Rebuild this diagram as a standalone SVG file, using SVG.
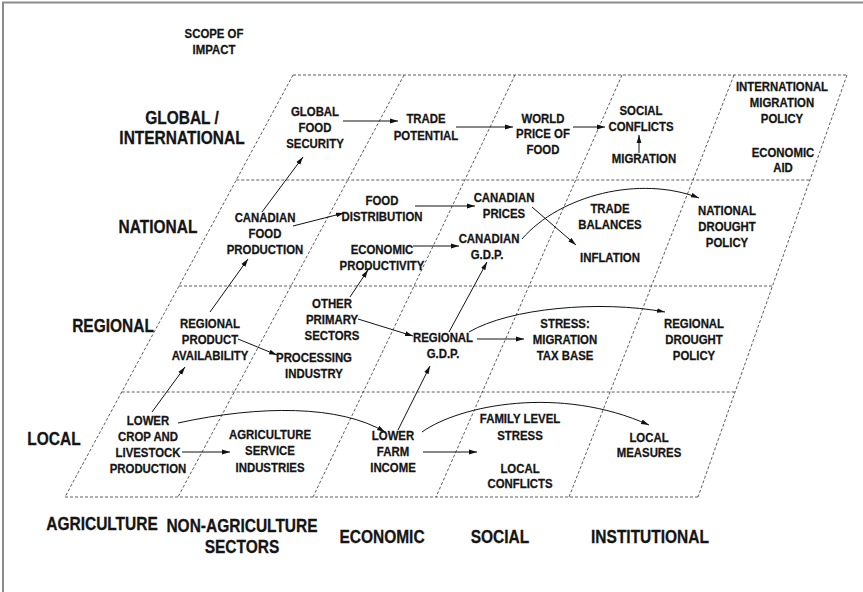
<svg xmlns="http://www.w3.org/2000/svg" width="863" height="592" viewBox="0 0 863 592">
  <defs>
    <style>
      .frame { fill: none; stroke: #8c8c8c; stroke-width: 2; }
      .grid { stroke: #4a4a4a; stroke-width: 0.9; stroke-dasharray: 3 2; fill: none; }
      .edge { stroke: #111; stroke-width: 1; fill: none; marker-end: url(#arrow); }
      text { font-family: "Liberation Sans", Arial, sans-serif; font-weight: bold; fill: #151515; stroke: #151515; stroke-width: 0.25; text-anchor: middle; }
      .n { font-size: 11.4px; }
      .axis { font-size: 15.5px; }
    </style>
    <marker id="arrow" markerUnits="userSpaceOnUse" markerWidth="9" markerHeight="6" refX="8" refY="3" orient="auto">
      <path d="M0,0.6 L8,3 L0,5.4 Z" fill="#111"/>
    </marker>
  </defs>

  <rect width="863" height="592" fill="#fff"/>
  <rect class="frame" x="3" y="2.5" width="900" height="700"/>

  <!-- skewed grid: five scope rows by five sectors -->
  <g id="grid">
    <line class="grid" x1="293" y1="75" x2="847" y2="75"/>
    <line class="grid" x1="236.3" y1="180" x2="809.9" y2="180"/>
    <line class="grid" x1="179" y1="286" x2="772.5" y2="286"/>
    <line class="grid" x1="121.7" y1="392" x2="735.1" y2="392"/>
    <line class="grid" x1="65" y1="497" x2="698" y2="497"/>
    <line class="grid" x1="293" y1="75" x2="65" y2="497"/>
    <line class="grid" x1="404" y1="75" x2="178" y2="497"/>
    <line class="grid" x1="515" y1="75" x2="313" y2="497"/>
    <line class="grid" x1="622" y1="75" x2="436" y2="497"/>
    <line class="grid" x1="734" y1="75" x2="569" y2="497"/>
    <line class="grid" x1="847" y1="75" x2="698" y2="497"/>
  </g>

  <!-- axis labels -->
  <g id="scope-title"><text class="n" transform="translate(214,38) scale(1,1.18)"><tspan x="0">SCOPE OF</tspan><tspan x="0" dy="13.56">IMPACT</tspan></text></g>
  <g id="row-global"><text class="axis" transform="translate(182,124) scale(1,1.18)"><tspan x="0">GLOBAL /</tspan><tspan x="0" dy="16.95">INTERNATIONAL</tspan></text></g>
  <g id="row-national"><text class="axis" transform="translate(158,233) scale(1,1.18)">NATIONAL</text></g>
  <g id="row-regional"><text class="axis" transform="translate(113,332) scale(1,1.18)">REGIONAL</text></g>
  <g id="row-local"><text class="axis" transform="translate(54,445) scale(1,1.18)">LOCAL</text></g>
  <g id="col-agriculture"><text class="axis" transform="translate(102,530) scale(1,1.18)">AGRICULTURE</text></g>
  <g id="col-non-agriculture"><text class="axis" transform="translate(242,532) scale(1,1.18)"><tspan x="0">NON-AGRICULTURE</tspan><tspan x="0" dy="17.8">SECTORS</tspan></text></g>
  <g id="col-economic"><text class="axis" transform="translate(382,543) scale(1,1.18)">ECONOMIC</text></g>
  <g id="col-social"><text class="axis" transform="translate(500,543) scale(1,1.18)">SOCIAL</text></g>
  <g id="col-institutional"><text class="axis" transform="translate(650,543) scale(1,1.18)">INSTITUTIONAL</text></g>

  <!-- global / international row -->
  <g id="global-food-security"><text class="n" transform="translate(315,116) scale(1,1.18)"><tspan x="0">GLOBAL</tspan><tspan x="0" dy="13.56">FOOD</tspan><tspan x="0" dy="13.56">SECURITY</tspan></text></g>
  <g id="trade-potential"><text class="n" transform="translate(426,123) scale(1,1.18)"><tspan x="0">TRADE</tspan><tspan x="0" dy="14.2">POTENTIAL</tspan></text></g>
  <g id="world-price"><text class="n" transform="translate(543,123) scale(1,1.18)"><tspan x="0">WORLD</tspan><tspan x="0" dy="13.1">PRICE OF</tspan><tspan x="0" dy="13.1">FOOD</tspan></text></g>
  <g id="social-conflicts"><text class="n" transform="translate(641,115) scale(1,1.18)"><tspan x="0">SOCIAL</tspan><tspan x="0" dy="13.56">CONFLICTS</tspan></text></g>
  <g id="migration"><text class="n" transform="translate(644,163) scale(1,1.18)">MIGRATION</text></g>
  <g id="intl-migration-policy"><text class="n" transform="translate(782,91) scale(1,1.18)"><tspan x="0">INTERNATIONAL</tspan><tspan x="0" dy="13.56">MIGRATION</tspan><tspan x="0" dy="13.56">POLICY</tspan></text></g>
  <g id="economic-aid"><text class="n" transform="translate(783,157) scale(1,1.18)"><tspan x="0">ECONOMIC</tspan><tspan x="0" dy="12.8">AID</tspan></text></g>

  <!-- national row -->
  <g id="canadian-food-production"><text class="n" transform="translate(265,222) scale(1,1.18)"><tspan x="0">CANADIAN</tspan><tspan x="0" dy="13.56">FOOD</tspan><tspan x="0" dy="13.56">PRODUCTION</tspan></text></g>
  <g id="food-distribution"><text class="n" transform="translate(382,205) scale(1,1.18)"><tspan x="0">FOOD</tspan><tspan x="0" dy="13.56">DISTRIBUTION</tspan></text></g>
  <g id="economic-productivity"><text class="n" transform="translate(382,254) scale(1,1.18)"><tspan x="0">ECONOMIC</tspan><tspan x="0" dy="13.56">PRODUCTIVITY</tspan></text></g>
  <g id="canadian-prices"><text class="n" transform="translate(504,202) scale(1,1.18)"><tspan x="0">CANADIAN</tspan><tspan x="0" dy="13.56">PRICES</tspan></text></g>
  <g id="canadian-gdp"><text class="n" transform="translate(489,243) scale(1,1.18)"><tspan x="0">CANADIAN</tspan><tspan x="-2" dy="13.56">G.D.P.</tspan></text></g>
  <g id="trade-balances"><text class="n" transform="translate(610,213) scale(1,1.18)"><tspan x="0">TRADE</tspan><tspan x="0" dy="13.56">BALANCES</tspan></text></g>
  <g id="inflation"><text class="n" transform="translate(610,262) scale(1,1.18)">INFLATION</text></g>
  <g id="national-drought-policy"><text class="n" transform="translate(727,215) scale(1,1.18)"><tspan x="0">NATIONAL</tspan><tspan x="0" dy="13.56">DROUGHT</tspan><tspan x="0" dy="13.56">POLICY</tspan></text></g>

  <!-- regional row -->
  <g id="regional-product-availability"><text class="n" transform="translate(210,328) scale(1,1.18)"><tspan x="0">REGIONAL</tspan><tspan x="0" dy="13.56">PRODUCT</tspan><tspan x="0" dy="13.56">AVAILABILITY</tspan></text></g>
  <g id="other-primary-sectors"><text class="n" transform="translate(332,308) scale(1,1.18)"><tspan x="0">OTHER</tspan><tspan x="0" dy="13.56">PRIMARY</tspan><tspan x="0" dy="13.56">SECTORS</tspan></text></g>
  <g id="processing-industry"><text class="n" transform="translate(314,362) scale(1,1.18)"><tspan x="0">PROCESSING</tspan><tspan x="0" dy="13.56">INDUSTRY</tspan></text></g>
  <g id="regional-gdp"><text class="n" transform="translate(443,342) scale(1,1.18)"><tspan x="0">REGIONAL</tspan><tspan x="0" dy="13.56">G.D.P.</tspan></text></g>
  <g id="stress-migration-tax"><text class="n" transform="translate(565,328) scale(1,1.18)"><tspan x="0">STRESS:</tspan><tspan x="0" dy="13.56">MIGRATION</tspan><tspan x="0" dy="13.56">TAX BASE</tspan></text></g>
  <g id="regional-drought-policy"><text class="n" transform="translate(694,328) scale(1,1.18)"><tspan x="0">REGIONAL</tspan><tspan x="0" dy="13.56">DROUGHT</tspan><tspan x="0" dy="13.56">POLICY</tspan></text></g>

  <!-- local row -->
  <g id="lower-crop-livestock"><text class="n" transform="translate(148,425) scale(1,1.18)"><tspan x="0">LOWER</tspan><tspan x="0" dy="13.56">CROP AND</tspan><tspan x="0" dy="13.56">LIVESTOCK</tspan><tspan x="0" dy="13.56">PRODUCTION</tspan></text></g>
  <g id="agriculture-service-industries"><text class="n" transform="translate(270,439) scale(1,1.18)"><tspan x="0">AGRICULTURE</tspan><tspan x="0" dy="13.8">SERVICE</tspan><tspan x="0" dy="13.8">INDUSTRIES</tspan></text></g>
  <g id="lower-farm-income"><text class="n" transform="translate(393,440) scale(1,1.18)"><tspan x="0">LOWER</tspan><tspan x="0" dy="13.56">FARM</tspan><tspan x="0" dy="13.56">INCOME</tspan></text></g>
  <g id="family-level-stress"><text class="n" transform="translate(520,423) scale(1,1.18)"><tspan x="0">FAMILY LEVEL</tspan><tspan x="0" dy="14.2">STRESS</tspan></text></g>
  <g id="local-conflicts"><text class="n" transform="translate(520,473) scale(1,1.18)"><tspan x="0">LOCAL</tspan><tspan x="0" dy="12.8">CONFLICTS</tspan></text></g>
  <g id="local-measures"><text class="n" transform="translate(649,442) scale(1,1.18)"><tspan x="0">LOCAL</tspan><tspan x="0" dy="12.8">MEASURES</tspan></text></g>

  <!-- impact links -->
  <g id="connectors">
    <path class="edge" d="M343,121 L398,121"/>
    <path class="edge" d="M456,127 L513,127"/>
    <path class="edge" d="M573,127 L605,127"/>
    <path class="edge" d="M639,153 L639,135"/>
    <path class="edge" d="M262,212 L303,157"/>
    <path class="edge" d="M293,226 L344,213"/>
    <path class="edge" d="M415,206 L475,206"/>
    <path class="edge" d="M413,246 L459,246"/>
    <path class="edge" d="M532,207 L576,245"/>
    <path class="edge" d="M522,239 C560,195 640,175 699,198"/>
    <path class="edge" d="M350,297 L368,270"/>
    <path class="edge" d="M210,312 L248,259"/>
    <path class="edge" d="M238,339 L277,355"/>
    <path class="edge" d="M358,319 L413,336"/>
    <path class="edge" d="M449,332 L487,262"/>
    <path class="edge" d="M477,339 L524,339"/>
    <path class="edge" d="M469,332 C510,308 600,300 665,312"/>
    <path class="edge" d="M152,412 L185,367"/>
    <path class="edge" d="M182,452 L230,452"/>
    <path class="edge" d="M178,423 C260,405 340,405 385,432"/>
    <path class="edge" d="M398,430 L430,366"/>
    <path class="edge" d="M423,452 L477,452"/>
    <path class="edge" d="M422,432 C460,405 560,385 649,425"/>
  </g>
</svg>
